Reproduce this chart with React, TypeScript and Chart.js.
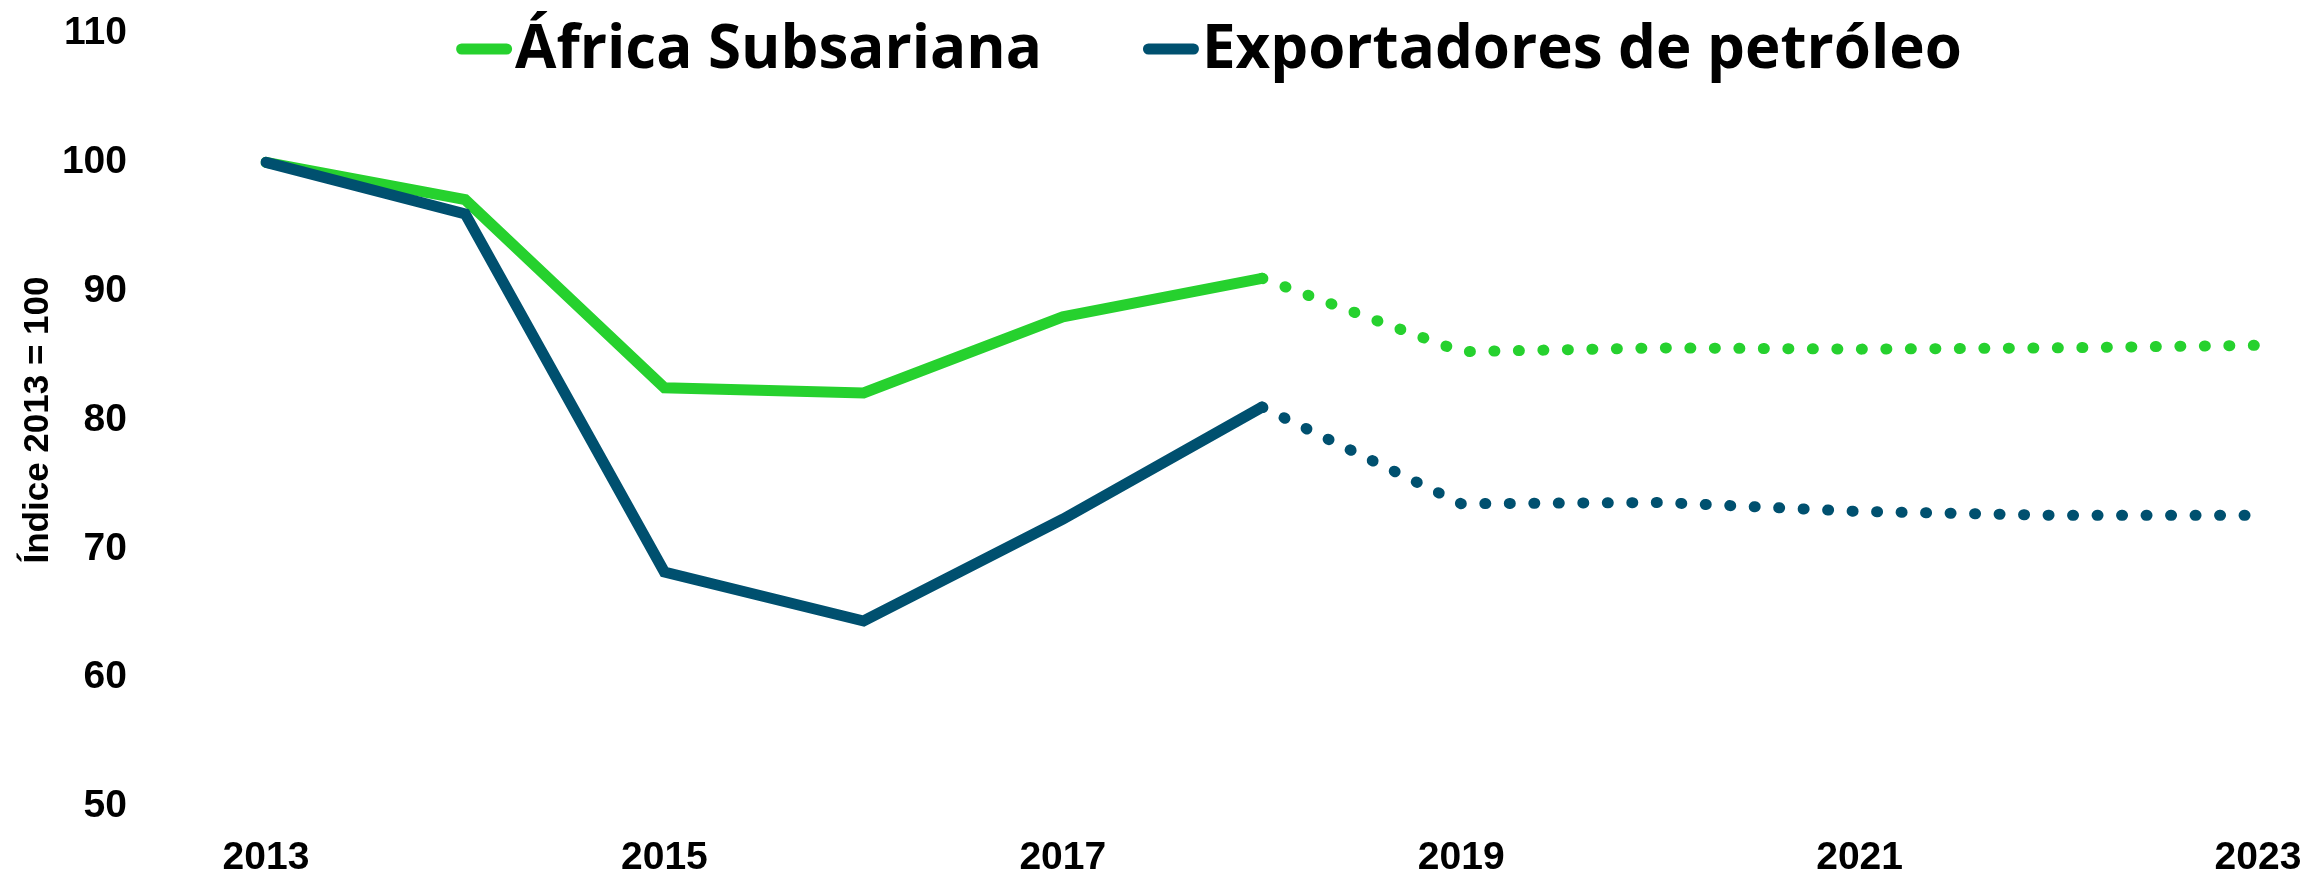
import React, { useEffect, useRef } from "react";
import { Chart, registerables } from "chart.js";

Chart.register(...registerables);

const years = ["2013", "2014", "2015", "2016", "2017", "2018", "2019", "2020", "2021", "2022", "2023"];
const africaSubsariana = [100, 97.1, 82.5, 82.1, 88.0, 91.0, 85.3, 85.6, 85.5, 85.6, 85.8];
const exportadoresPetroleo = [100, 96.0, 68.2, 64.4, 72.3, 81.0, 73.5, 73.6, 72.9, 72.6, 72.6];
const yTicks = [50, 60, 70, 80, 90, 100, 110];
const labelAfrica = "África Subsariana";
const labelExport = "Exportadores de petróleo";
const yTitle = "Índice 2013 = 100";
const lastActualIndex = 5;

const GREEN = "#26D12E";
const BLUE = "#00506F";
const LEGEND_FAMILY = "'Open Sans', sans-serif";
const TICK_FAMILY = "'Liberation Sans', Arial, sans-serif";

const legendPlugin = {
  id: "topLegend",
  afterDraw(chart: any) {
    const ctx = chart.ctx as CanvasRenderingContext2D;
    const size = 60;
    const lineW = 56;
    const gap = 3;
    const itemGap = 101;
    const centerX = 1201;
    const lineY = 41;
    const baseY = 60;
    ctx.save();
    ctx.font = `bold ${size}px ${LEGEND_FAMILY}`;
    const ds = chart.data.datasets.slice().sort((a: any, b: any) => a.legendIndex - b.legendIndex);
    const items = ds.map((d: any) => ({ text: d.label, color: d.borderColor, w: ctx.measureText(d.label).width }));
    const total = items.reduce((s: number, it: any) => s + lineW + gap + it.w, 0) + itemGap * (items.length - 1);
    let x = centerX - total / 2;
    for (const it of items) {
      ctx.strokeStyle = it.color;
      ctx.lineWidth = 11;
      ctx.lineCap = "round";
      ctx.beginPath();
      ctx.moveTo(x + 5.5, lineY);
      ctx.lineTo(x + lineW - 5.5, lineY);
      ctx.stroke();
      ctx.fillStyle = "#000";
      ctx.textBaseline = "alphabetic";
      ctx.textAlign = "left";
      ctx.fillText(it.text, x + lineW + gap, baseY);
      x += lineW + gap + it.w + itemGap;
    }
    ctx.restore();
  },
};

export default function App() {
  const ref = useRef<HTMLCanvasElement | null>(null);

  useEffect(() => {
    if (!ref.current) return;
    const tickFont = { family: TICK_FAMILY, size: 39, weight: "bold" as any, lineHeight: 1 };
    const titleFont = { family: TICK_FAMILY, size: 35, weight: "bold" as any, lineHeight: 1.2 };
    const dotted = (c: any) => (c.p0DataIndex >= lastActualIndex ? [1, 23.5] : undefined);
    const chart = new Chart(ref.current, {
      type: "line",
      data: {
        labels: years,
        datasets: [
          {
            label: labelAfrica,
            data: africaSubsariana,
            borderColor: GREEN,
            backgroundColor: GREEN,
            borderWidth: 11,
            borderCapStyle: "round",
            pointRadius: 0,
            tension: 0,
            order: 1,
            legendIndex: 0,
            segment: { borderDash: dotted },
          } as any,
          {
            label: labelExport,
            data: exportadoresPetroleo,
            borderColor: BLUE,
            backgroundColor: BLUE,
            borderWidth: 11,
            borderCapStyle: "round",
            pointRadius: 0,
            tension: 0,
            order: 0,
            legendIndex: 1,
            segment: { borderDash: dotted },
          } as any,
        ],
      },
      options: {
        animation: false,
        responsive: true,
        maintainAspectRatio: false,
        layout: { padding: { top: 25.5, right: 57, bottom: 0, left: 0 } },
        plugins: {
          legend: { display: false },
          tooltip: { enabled: false },
        },
        scales: {
          x: {
            grid: { display: false, drawTicks: false },
            border: { display: false },
            afterFit: (s: any) => {
              s.height = 65.5;
              s.paddingLeft = 0;
              s.paddingRight = 0;
            },
            ticks: {
              autoSkip: false,
              maxRotation: 0,
              padding: 32,
              color: "#000",
              font: tickFont,
              callback: (_v: any, i: number) => (i % 2 === 0 ? years[i] : ""),
            },
          },
          y: {
            min: 50,
            max: 110,
            grid: { display: false, drawTicks: false },
            border: { display: false },
            afterFit: (s: any) => {
              s.width = 258;
              s.paddingTop = 0;
              s.paddingBottom = 0;
            },
            afterBuildTicks: (s: any) => {
              s.ticks = yTicks.map((v) => ({ value: v }));
            },
            ticks: {
              padding: 139,
              color: "#000",
              font: tickFont,
            },
            title: {
              display: true,
              text: yTitle,
              color: "#000",
              padding: { top: 9, bottom: 0 },
              font: titleFont,
            },
          },
        },
      },
      plugins: [legendPlugin],
    });
    return () => chart.destroy();
  }, []);

  return (
    <div style={{ position: "relative", width: "100%", height: 864 }}>
      <canvas ref={ref} />
    </div>
  );
}
